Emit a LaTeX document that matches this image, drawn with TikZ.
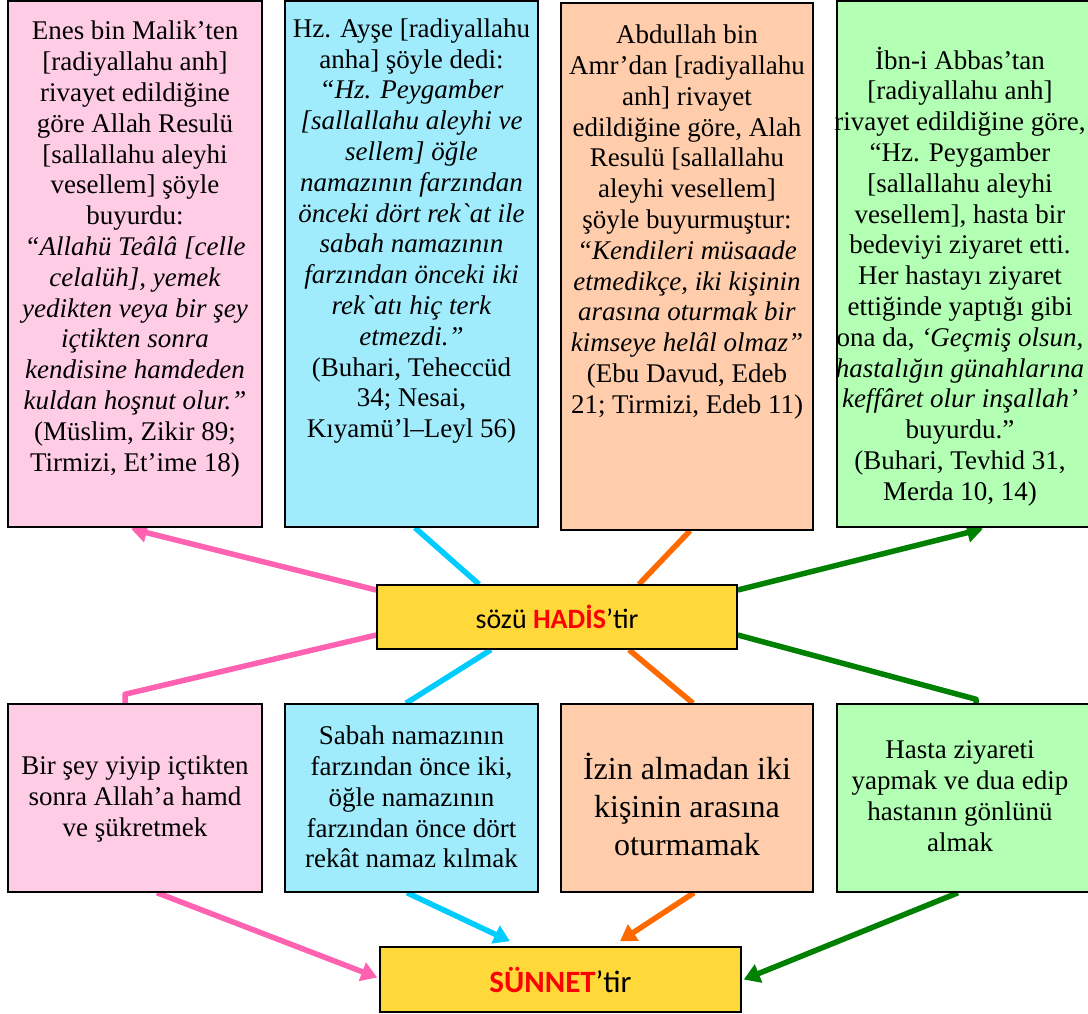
\documentclass[tikz,border=0pt]{standalone}
\usepackage{fontspec}
\setmainfont{Liberation Serif}[Ligatures=TeXOff]
\newfontfamily\labelfont{Carlito}
\usetikzlibrary{arrows.meta}
\pgfdeclarelayer{links}
\pgfsetlayers{links,main}

\definecolor{pinkfill}{HTML}{FFCCE6}
\definecolor{pinkline}{HTML}{FF62B0}
\definecolor{bluefill}{HTML}{A0ECFD}
\definecolor{blueline}{HTML}{00CCFF}
\definecolor{orangefill}{HTML}{FFCDAB}
\definecolor{orangeline}{HTML}{FF6A00}
\definecolor{greenfill}{HTML}{B3FFB3}
\definecolor{greenline}{HTML}{008000}
\definecolor{goldfill}{HTML}{FFD83A}
\definecolor{keyred}{HTML}{FF0000}

\begin{document}
\begin{tikzpicture}[x=1pt,y=-1pt,
  box/.style={draw=black,line width=1.5pt,inner sep=0pt},
  txt/.style={font=\fontsize{27}{30.8}\selectfont,align=center,inner sep=0pt},
  bigtxt/.style={font=\fontsize{32}{38}\selectfont,align=center,inner sep=0pt},
  link/.style={line width=5.5pt,draw=#1,line join=round},
  tip/.style={-{Triangle[length=16pt,width=19pt]}}]

\useasboundingbox (0,0) rectangle (1088,1013);

% hadith boxes along the top
\node[box,fill=pinkfill,minimum width=254pt,minimum height=526pt] (t1) at (135,264) {};
\node[box,fill=bluefill,minimum width=253pt,minimum height=526pt] (t2) at (411.5,264) {};
\node[box,fill=orangefill,minimum width=252pt,minimum height=527pt] (t3) at (687,266.5) {};
\node[box,fill=greenfill,minimum width=253pt,minimum height=526pt] (t4) at (963.5,264) {};

\node[txt] (t1text) at (135,249) {Enes bin Malik’ten\\ {[}radiyallahu anh]\\ rivayet edildiğine\\ göre Allah Resulü\\ {[}sallallahu aleyhi\\ vesellem] şöyle\\ buyurdu:\\ \textit{“Allahü Teâlâ [celle}\\ \textit{celalüh], yemek}\\ \textit{yedikten veya bir şey}\\ \textit{içtikten sonra}\\ \textit{kendisine hamdeden}\\ \textit{kuldan hoşnut olur.”}\\ (Müslim, Zikir 89;\\ Tirmizi, Et’ime 18)};

\node[txt] (t2text) at (411.5,231) {Hz. Ayşe [radiyallahu\\ anha] şöyle dedi:\\ \textit{“Hz. Peygamber}\\ \textit{[sallallahu aleyhi ve}\\ \textit{sellem] öğle}\\ \textit{namazının farzından}\\ \textit{önceki dört rek`at ile}\\ \textit{sabah namazının}\\ \textit{farzından önceki iki}\\ \textit{rek`atı hiç terk}\\ \textit{etmezdi.”}\\ (Buhari, Teheccüd\\ 34; Nesai,\\ Kıyamü’l–Leyl 56)};

\node[txt] (t3text) at (687,222) {Abdullah bin\\ Amr’dan [radiyallahu\\ anh] rivayet\\ edildiğine göre, Alah\\ Resulü [sallallahu\\ aleyhi vesellem]\\ şöyle buyurmuştur:\\ \textit{“Kendileri müsaade}\\ \textit{etmedikçe, iki kişinin}\\ \textit{arasına oturmak bir}\\ \textit{kimseye helâl olmaz”}\\ (Ebu Davud, Edeb\\ 21; Tirmizi, Edeb 11)};

\node[txt] (t4text) at (960,276.5) {İbn-i Abbas’tan\\ {[}radiyallahu anh]\\ rivayet edildiğine göre,\\ “Hz. Peygamber\\ {[}sallallahu aleyhi\\ vesellem], hasta bir\\ bedeviyi ziyaret etti.\\ Her hastayı ziyaret\\ ettiğinde yaptığı gibi\\ ona da, \textit{‘Geçmiş olsun,}\\ \textit{hastalığın günahlarına}\\ \textit{keffâret olur inşallah’}\\ buyurdu.”\\ (Buhari, Tevhid 31,\\ Merda 10, 14)};

% middle label
\node[box,fill=goldfill,minimum width=360pt,minimum height=64pt,
  font=\labelfont\fontsize{28}{32}\selectfont] (hadis) at (557,617)
  {sözü \textcolor{keyred}{\bfseries HADİS}’tir};

% practice boxes
\node[box,fill=pinkfill,minimum width=254pt,minimum height=188pt] (b1) at (135,798) {};
\node[box,fill=bluefill,minimum width=253pt,minimum height=188pt] (b2) at (411.5,798) {};
\node[box,fill=orangefill,minimum width=252pt,minimum height=188pt] (b3) at (687,798) {};
\node[box,fill=greenfill,minimum width=253pt,minimum height=188pt] (b4) at (963.5,798) {};

\node[txt] (b1text) at (135,799) {Bir şey yiyip içtikten\\ sonra Allah’a hamd\\ ve şükretmek};
\node[txt] (b2text) at (411.5,797) {Sabah namazının\\ farzından önce iki,\\ öğle namazının\\ farzından önce dört\\ rekât namaz kılmak};
\node[bigtxt] (b3text) at (687,804) {İzin almadan iki\\ kişinin arasına\\ oturmamak};
\node[txt] (b4text) at (960,796) {Hasta ziyareti\\ yapmak ve dua edip\\ hastanın gönlünü\\ almak};

% bottom label
\node[box,fill=goldfill,minimum width=361pt,minimum height=65pt,
  font=\labelfont\fontsize{31}{36}\selectfont] (sunnet) at (560.5,979.5)
  {\textcolor{keyred}{\bfseries SÜNNET}’tir};

\begin{pgfonlayer}{links}
% from the middle label up to the hadith boxes
\draw[link=pinkline,tip] ([yshift=27pt]hadis.west) -- ([xshift=-4pt,yshift=-1pt]t1.south);
\draw[link=blueline] ([xshift=-78pt]hadis.north) -- ([xshift=3.5pt]t2.south);
\draw[link=orangeline] ([xshift=82pt]hadis.north) -- ([xshift=3pt]t3.south);
\draw[link=greenline,tip] ([yshift=27pt]hadis.east) -- ([xshift=19.5pt,yshift=-1pt]t4.south);
% from the middle label down to the practice boxes
\draw[link=pinkline] ([yshift=-18pt]hadis.west) -- ([xshift=-10pt,yshift=9pt]b1.north) -- ([xshift=-10pt]b1.north);
\draw[link=blueline] ([xshift=-66pt]hadis.south) -- ([xshift=-5.5pt]b2.north);
\draw[link=orangeline] ([xshift=72pt]hadis.south) -- ([xshift=6pt]b3.north);
\draw[link=greenline] ([yshift=-18pt]hadis.east) -- ([xshift=12.5pt,yshift=4pt]b4.north) -- ([xshift=12.5pt]b4.north);
% from the practice boxes into the bottom label
\draw[link=pinkline,tip] ([xshift=22pt]b1.south) -- ([xshift=-2pt,yshift=2pt]sunnet.west);
\draw[link=blueline,tip] ([xshift=-4.5pt]b2.south) -- ([xshift=-50.5pt,yshift=5pt]sunnet.north);
\draw[link=orangeline,tip] ([xshift=7pt]b3.south) -- ([xshift=59.5pt,yshift=5pt]sunnet.north);
\draw[link=greenline,tip] ([xshift=-5.5pt]b4.south) -- ([xshift=2pt]sunnet.east);
\end{pgfonlayer}
\end{tikzpicture}
\end{document}
